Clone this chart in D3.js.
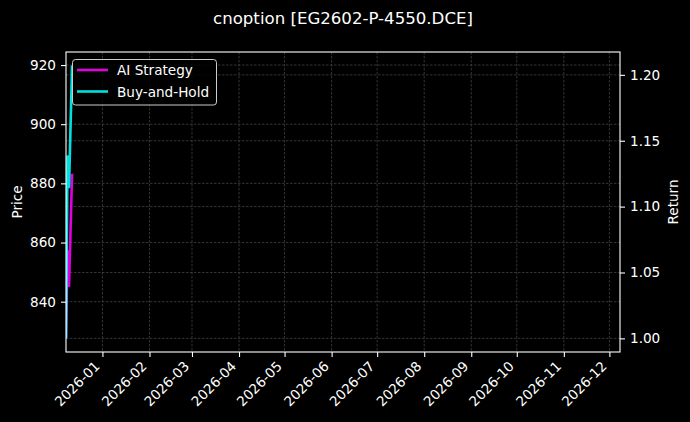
<!DOCTYPE html>
<html>
<head>
<meta charset="utf-8">
<script src="https://cdn.jsdelivr.net/npm/d3@7"></script>
<style>
    body { margin: 0; background: #000; }
    svg { display: block; font-family: 'DejaVu Sans', sans-serif; }
</style>
</head>
<body>
<div id="chart"></div>
<script>
// data
const dates = ['2025-12-08', '2025-12-09', '2025-12-10', '2025-12-12'];
const aiStrategy = [1.000, 1.066, 1.040, 1.125];
const buyAndHold = [1.000, 1.138, 1.115, 1.207];
const priceRange = [827.6, 919.8];
const xRange = ['2025-12-08', '2026-12-08'];
const monthTicks = ['2026-01-01', '2026-02-01', '2026-03-01', '2026-04-01', '2026-05-01', '2026-06-01',
    '2026-07-01', '2026-08-01', '2026-09-01', '2026-10-01', '2026-11-01', '2026-12-01'];
const priceTicks = [840, 860, 880, 900, 920];
const returnTicks = [1.00, 1.05, 1.10, 1.15, 1.20];
const seriesNames = ['AI Strategy', 'Buy-and-Hold'];
const seriesColors = ['#ff00ff', '#00ffff'];

const width = 690, height = 422;
const margin = { top: 52, right: 70, bottom: 70, left: 66 };
const parse = d3.timeParse('%Y-%m-%d');

const svg = d3.select('#chart').append('svg')
    .attr('width', width)
    .attr('height', height);

svg.append('rect').attr('width', width).attr('height', height).attr('fill', '#000');

// matplotlib style 5% padding
function padded(lo, hi) {
    const p = (hi - lo) * 0.05;
    return [lo - p, hi + p];
}

const x = d3.scaleTime()
    .domain(xRange.map(parse))
    .range([margin.left, width - margin.right]);

const yPrice = d3.scaleLinear()
    .domain(padded(priceRange[0], priceRange[1]))
    .range([height - margin.bottom, margin.top]);

const allReturns = aiStrategy.concat(buyAndHold);
const yRet = d3.scaleLinear()
    .domain(padded(d3.min(allReturns), d3.max(allReturns)))
    .range([height - margin.bottom, margin.top]);

// lines are clipped to the axes box, like matplotlib does
svg.append('clipPath')
    .attr('id', 'plotClip')
    .append('rect')
    .attr('x', margin.left)
    .attr('y', margin.top)
    .attr('width', width - margin.left - margin.right)
    .attr('height', height - margin.top - margin.bottom);

const gridColor = '#4a4a4a';
const grid = svg.append('g')
    .attr('stroke', gridColor)
    .attr('stroke-width', 0.7)
    .attr('stroke-dasharray', '2.5,1.5');

grid.selectAll('.vx')
    .data(monthTicks.map(parse))
    .join('line')
    .attr('x1', d => x(d)).attr('x2', d => x(d))
    .attr('y1', margin.top).attr('y2', height - margin.bottom);

grid.selectAll('.hp')
    .data(priceTicks)
    .join('line')
    .attr('class', 'hp')
    .attr('x1', margin.left).attr('x2', width - margin.right)
    .attr('y1', d => yPrice(d)).attr('y2', d => yPrice(d));

grid.selectAll('.hr')
    .data(returnTicks)
    .join('line')
    .attr('class', 'hr')
    .attr('x1', margin.left).attr('x2', width - margin.right)
    .attr('y1', d => yRet(d)).attr('y2', d => yRet(d));

// lines
const series = [aiStrategy, buyAndHold];
const lineGen = d3.line()
    .x((d, i) => x(parse(dates[i])))
    .y(d => yRet(d));

svg.append('g')
    .attr('clip-path', 'url(#plotClip)')
    .selectAll('path')
    .data(series)
    .join('path')
    .attr('d', d => lineGen(d))
    .attr('fill', 'none')
    .attr('stroke', (d, i) => seriesColors[i])
    .attr('stroke-opacity', 0.88)
    .attr('stroke-width', 2.6)
    .attr('stroke-linejoin', 'round');

// axes
const fontSize = '13.6px';
const xAxis = svg.append('g')
    .attr('transform', `translate(0,${height - margin.bottom})`)
    .call(d3.axisBottom(x).tickValues(monthTicks.map(parse)).tickFormat(d3.timeFormat('%Y-%m')).tickSize(5).tickSizeOuter(0).tickPadding(0));

xAxis.selectAll('text')
    .attr('font-size', fontSize)
    .attr('fill', '#fff')
    .attr('text-anchor', 'end')
    .attr('dy', null)
    .attr('y', null)
    .attr('transform', 'translate(-2.3,15) rotate(-45)');

const leftAxis = svg.append('g')
    .attr('transform', `translate(${margin.left},0)`)
    .call(d3.axisLeft(yPrice).tickValues(priceTicks).tickFormat(d3.format('d')).tickSize(5).tickSizeOuter(0).tickPadding(5));

const rightAxis = svg.append('g')
    .attr('transform', `translate(${width - margin.right},0)`)
    .call(d3.axisRight(yRet).tickValues(returnTicks).tickFormat(d3.format('.2f')).tickSize(5).tickSizeOuter(0).tickPadding(5));

[xAxis, leftAxis, rightAxis].forEach(a => {
    a.select('.domain').remove();
    a.selectAll('line').attr('stroke', '#fff').attr('stroke-width', 1.1);
    a.selectAll('text').attr('fill', '#fff').attr('font-size', fontSize).attr('font-family', 'DejaVu Sans');
});

// frame
svg.append('rect')
    .attr('x', margin.left)
    .attr('y', margin.top)
    .attr('width', width - margin.left - margin.right)
    .attr('height', height - margin.top - margin.bottom)
    .attr('fill', 'none')
    .attr('stroke', '#fff')
    .attr('stroke-width', 1.1);

// axis labels
const midY = (margin.top + height - margin.bottom) / 2;
svg.append('text')
    .attr('transform', `translate(21.5,${midY}) rotate(-90)`)
    .attr('text-anchor', 'middle')
    .attr('fill', '#fff')
    .attr('font-size', fontSize)
    .text('Price');

svg.append('text')
    .attr('transform', `translate(678,${midY}) rotate(-90)`)
    .attr('text-anchor', 'middle')
    .attr('fill', '#fff')
    .attr('font-size', fontSize)
    .text('Return');

// title
svg.append('text')
    .attr('x', 343)
    .attr('y', 24)
    .attr('text-anchor', 'middle')
    .attr('fill', '#fff')
    .attr('font-size', '16.6px')
    .text('cnoption [EG2602-P-4550.DCE]');

// legend
const legend = svg.append('g');
legend.append('rect')
    .attr('x', 72.5).attr('y', 59.5)
    .attr('width', 144).attr('height', 45.5)
    .attr('rx', 3)
    .attr('fill', '#000')
    .attr('fill-opacity', 0.8)
    .attr('stroke', '#cccccc')
    .attr('stroke-width', 1);

const item = legend.selectAll('.item')
    .data(seriesNames)
    .join('g')
    .attr('transform', (d, i) => `translate(0,${70 + i * 21.5})`);

item.append('line')
    .attr('x1', 77).attr('x2', 108)
    .attr('stroke', (d, i) => seriesColors[i])
    .attr('stroke-opacity', 0.88)
    .attr('stroke-width', 2.6);

item.append('text')
    .attr('x', 117)
    .attr('y', 5)
    .attr('fill', '#fff')
    .attr('font-size', fontSize)
    .text(d => d);
</script>
</body>
</html>
